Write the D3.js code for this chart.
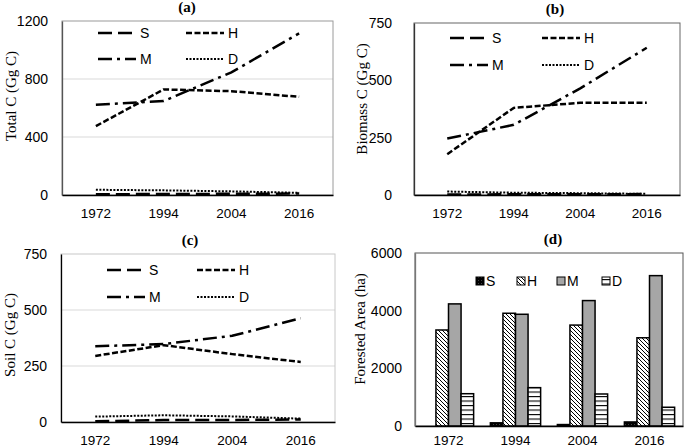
<!DOCTYPE html>
<html>
<head>
<meta charset="utf-8">
<script src="https://cdn.jsdelivr.net/npm/d3@7"></script>
<style>
  body { margin: 0; background: #fff; }
  text { fill: #000; }
  .tick text { font-family: "Liberation Sans", Arial, sans-serif; font-size: 14px; }
  .xax .tick text { font-size: 13.5px; }
  .ytitle { font-family: "Liberation Serif", "Times New Roman", serif; font-size: 15px; }
  .ptitle { font-family: "Liberation Serif", "Times New Roman", serif; font-size: 15px; font-weight: bold; }
  .legend text { font-family: "Liberation Sans", Arial, sans-serif; font-size: 14px; }
</style>
</head>
<body>
<svg id="chart" width="685" height="448"></svg>
<script>
const years = ["1972", "1994", "2004", "2016"];
const series = ["S", "H", "M", "D"];

// (a) total carbon, Gg C
const totalS = [5, 7, 8, 10];
const totalH = [475, 728, 716, 677];
const totalM = [622, 648, 846, 1115];
const totalD = [36, 32, 25, 15];

// (b) biomass carbon, Gg C
const bioS = [2, 3, 3, 4];
const bioH = [178, 380, 402, 402];
const bioM = [246, 306, 465, 642];
const bioD = [15, 10, 8, 5];

// (c) soil carbon, Gg C
const soilS = [3, 9, 9, 11];
const soilH = [295, 343, 303, 268];
const soilM = [338, 348, 385, 463];
const soilD = [24, 30, 25, 15];

// (d) forested area, ha
const areaS = [0, 110, 50, 140];
const areaH = [3330, 3910, 3500, 3060];
const areaM = [4235, 3875, 4350, 5215];
const areaD = [1120, 1330, 1110, 650];

const ticksA = [0, 400, 800, 1200];
const ticks750 = [0, 250, 500, 750];
const ticksD = [0, 2000, 4000, 6000];

const dashes = { S: "14,6", H: "6,2.5", M: "14,5,3,5", D: "2,1.5" };

const svg = d3.select("#chart");

// patterns for bars
const defs = svg.append("defs");
const hatch = defs.append("pattern").attr("id", "hatchH")
  .attr("patternUnits", "userSpaceOnUse").attr("width", 4).attr("height", 4);
hatch.append("rect").attr("width", 4).attr("height", 4).attr("fill", "#fff");
hatch.append("path").attr("d", "M-1,-1 L5,5 M-1,3 L1,5 M3,-1 L5,1")
  .attr("stroke", "#000").attr("stroke-width", 1);
const horiz = defs.append("pattern").attr("id", "hatchD")
  .attr("patternUnits", "userSpaceOnUse").attr("width", 4).attr("height", 4.5);
horiz.append("rect").attr("width", 4).attr("height", 4.5).attr("fill", "#fff");
horiz.append("path").attr("d", "M0,0.5 L4,0.5").attr("stroke", "#000").attr("stroke-width", 1.2);
const dotS = defs.append("pattern").attr("id", "dotS")
  .attr("patternUnits", "userSpaceOnUse").attr("width", 3).attr("height", 3);
dotS.append("rect").attr("width", 3).attr("height", 3).attr("fill", "#000");
dotS.append("rect").attr("x", 1).attr("y", 1).attr("width", 0.8).attr("height", 0.8).attr("fill", "#666");

const barFill = { S: "url(#dotS)", H: "url(#hatchH)", M: "#a6a6a6", D: "url(#hatchD)" };

function frame(p, grid, ticks, y) {
  let g = svg.append("g");
  if (grid) {
    g.selectAll("line.grid")
      .data(ticks.slice(1, -1))
      .enter().append("line")
      .attr("x1", p.left).attr("x2", p.right)
      .attr("y1", d => y(d)).attr("y2", d => y(d))
      .attr("stroke", "#d9d9d9").attr("stroke-width", 1);
  }
  g.append("rect")
    .attr("x", p.left).attr("y", p.top)
    .attr("width", p.right - p.left).attr("height", p.bottom - p.top)
    .attr("fill", "none").attr("stroke", p.frameColor).attr("stroke-width", 1);
}

function axes(p, x, y, ticks) {
  let ya = svg.append("g")
    .attr("transform", `translate(${p.left},0)`)
    .call(d3.axisLeft(y).tickValues(ticks).tickFormat(d3.format("d")).tickSize(0).tickPadding(p.pad));
  ya.select(".domain").attr("stroke", p.leftColor).attr("stroke-width", 1.3);

  let xa = svg.append("g")
    .attr("class", "xax")
    .attr("transform", `translate(0,${p.bottom})`)
    .call(d3.axisBottom(x).tickSize(0).tickPadding(0));
  xa.select(".domain").attr("stroke", "#000").attr("stroke-width", 1.5);
  // place label baselines where the reference has them
  xa.selectAll(".tick text").attr("dy", null).attr("y", p.xBase - p.bottom);

  svg.append("text").attr("class", "ptitle")
    .attr("x", p.titleX).attr("y", p.top - 9)
    .attr("text-anchor", "middle")
    .text(p.title);

  svg.append("text").attr("class", "ytitle")
    .attr("transform", `translate(${p.yTitleX},${p.yTitleY}) rotate(-90)`)
    .attr("text-anchor", "middle")
    .attr("dy", "0.35em")
    .text(p.yTitle);
}

function linePanel(p, data, ticks, grid) {
  let x = d3.scalePoint().domain(years).range([p.left, p.right]).padding(0.5);
  let xb = d3.scaleBand().domain(years).range([p.left, p.right]);
  let y = d3.scaleLinear().domain([0, ticks[ticks.length - 1]]).range([p.bottom, p.top]);

  frame(p, grid, ticks, y);
  axes(p, xb, y, ticks);

  let line = d3.line().x((d, i) => x(years[i])).y(d => y(d));
  series.forEach(s => {
    svg.append("path")
      .datum(data[s])
      .attr("d", line)
      .attr("fill", "none")
      .attr("stroke", "#000")
      .attr("stroke-width", s == "D" ? 2 : 2.5)
      .attr("stroke-dasharray", dashes[s]);
  });

  // legend, 2 x 2
  let lg = svg.append("g").attr("class", "legend");
  series.forEach((s, i) => {
    let lx = p.legX + (i % 2) * p.legCol;
    let ly = p.legY + Math.floor(i / 2) * p.legRow;
    lg.append("line")
      .attr("x1", lx).attr("x2", lx + 38)
      .attr("y1", ly).attr("y2", ly)
      .attr("stroke", "#000")
      .attr("stroke-width", s == "D" ? 2 : 2.5)
      .attr("stroke-dasharray", dashes[s]);
    lg.append("text")
      .attr("x", lx + 42).attr("y", ly)
      .attr("dy", "0.35em")
      .text(s);
  });
}

// (a)
linePanel({
  left: 62, right: 333, top: 21, bottom: 195, pad: 14, xBase: 218,
  frameColor: "#9a9a9a", leftColor: "#555",
  title: "(a)", titleX: 187, yTitle: "Total C (Gg C)", yTitleX: 11, yTitleY: 96,
  legX: 98, legY: 33, legCol: 88, legRow: 26
}, { S: totalS, H: totalH, M: totalM, D: totalD }, ticksA, true);

// (b)
linePanel({
  left: 414, right: 680, top: 23, bottom: 195, pad: 22, xBase: 218,
  frameColor: "#666", leftColor: "#333",
  title: "(b)", titleX: 555, yTitle: "Biomass C (Gg C)", yTitleX: 362, yTitleY: 99,
  legX: 450, legY: 38, legCol: 92, legRow: 27
}, { S: bioS, H: bioH, M: bioM, D: bioD }, ticks750, false);

// (c)
linePanel({
  left: 61, right: 335, top: 254, bottom: 422, pad: 14, xBase: 445,
  frameColor: "#c8c8c8", leftColor: "#000",
  title: "(c)", titleX: 190, yTitle: "Soil C (Gg C)", yTitleX: 10, yTitleY: 335,
  legX: 107, legY: 270, legCol: 90, legRow: 27
}, { S: soilS, H: soilH, M: soilM, D: soilD }, ticks750, true);

// (d) bars
(function () {
  let p = {
    left: 415, right: 683, top: 253, bottom: 426, pad: 13, xBase: 445,
    frameColor: "#555", leftColor: "#777",
    title: "(d)", titleX: 553, yTitle: "Forested Area (ha)", yTitleX: 360, yTitleY: 329
  };
  let data = { S: areaS, H: areaH, M: areaM, D: areaD };
  let x0 = d3.scaleBand().domain(years).range([p.left, p.right])
    .paddingInner(0.25).paddingOuter(0.125);
  let xl = d3.scaleBand().domain(years).range([p.left, p.right]);
  let x1 = d3.scaleBand().domain(series).range([0, x0.bandwidth()]);
  let y = d3.scaleLinear().domain([0, 6000]).range([p.bottom, p.top]);

  frame(p, false, ticksD, y);

  years.forEach((yr, j) => {
    svg.selectAll(null)
      .data(series)
      .enter().append("rect")
      .attr("x", s => x0(yr) + x1(s))
      .attr("width", x1.bandwidth())
      .attr("y", s => y(data[s][j]))
      .attr("height", s => p.bottom - y(data[s][j]))
      .attr("fill", s => barFill[s])
      .attr("stroke", "#000")
      .attr("stroke-width", s => data[s][j] > 0 ? 1.5 : 0);
  });

  axes(p, xl, y, ticksD);

  let lg = svg.append("g").attr("class", "legend");
  let legX = [476, 517, 557, 602];
  series.forEach((s, i) => {
    lg.append("rect")
      .attr("x", legX[i]).attr("y", 277)
      .attr("width", 8).attr("height", 8)
      .attr("fill", barFill[s])
      .attr("stroke", "#000").attr("stroke-width", 1);
    lg.append("text")
      .attr("x", legX[i] + 10).attr("y", 281)
      .attr("dy", "0.35em")
      .text(s);
  });
})();
</script>
</body>
</html>
